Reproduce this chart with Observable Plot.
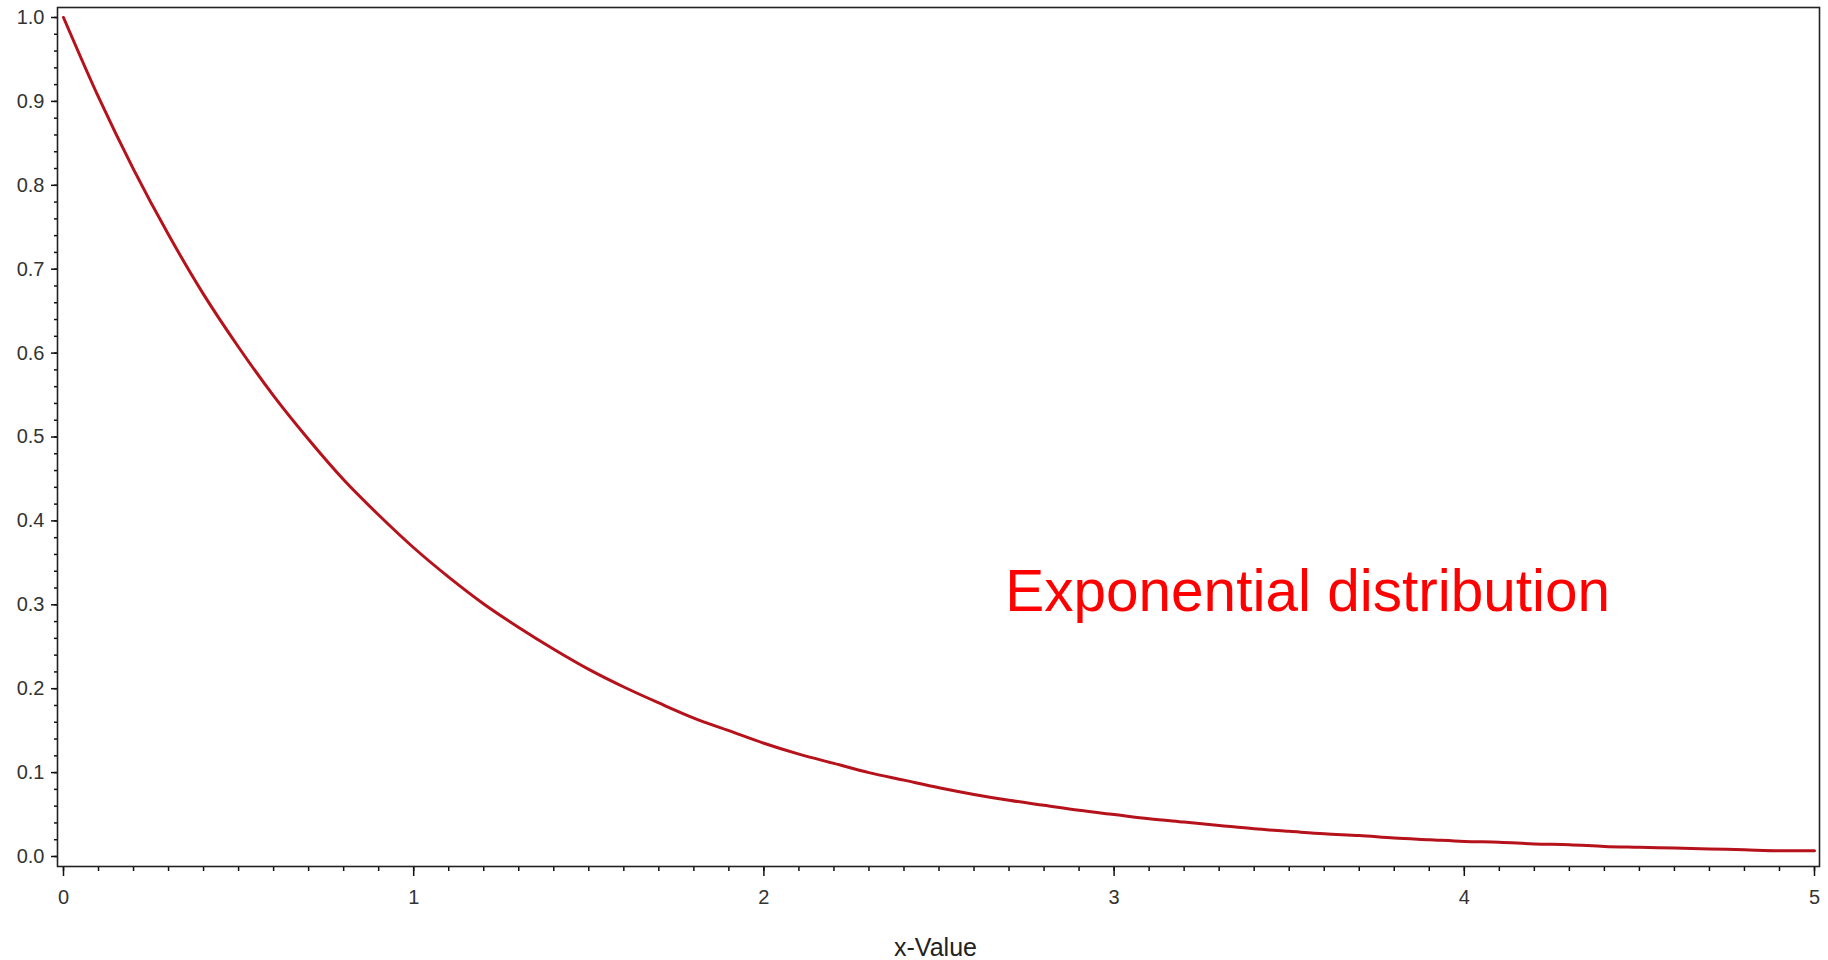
<!DOCTYPE html>
<html>
<head>
<meta charset="utf-8">
<script src="https://cdn.jsdelivr.net/npm/d3@7"></script>
<script src="https://cdn.jsdelivr.net/npm/@observablehq/plot@0.6"></script>
<style>
  html, body { margin: 0; padding: 0; background: #fff; }
</style>
</head>
<body>
<div id="chart"></div>
<script>
// x positions of the curve samples
const xValues = [0.0,0.1,0.2,0.3,0.4,0.5,0.6,0.7,0.8,0.9,1.0,1.1,1.2,1.3,1.4,1.5,1.6,1.7,1.8,1.9,
  2.0,2.1,2.2,2.3,2.4,2.5,2.6,2.7,2.8,2.9,3.0,3.1,3.2,3.3,3.4,3.5,3.6,3.7,3.8,3.9,
  4.0,4.1,4.2,4.3,4.4,4.5,4.6,4.7,4.8,4.9,5.0];
// density values
const yValues = [1.000,0.905,0.819,0.741,0.670,0.607,0.549,0.497,0.449,0.407,0.368,0.333,0.301,0.273,0.247,0.223,0.202,0.183,0.165,0.150,
  0.135,0.122,0.111,0.100,0.091,0.082,0.074,0.067,0.061,0.055,0.050,0.045,0.041,0.037,0.033,0.030,0.027,0.025,0.022,0.020,
  0.018,0.017,0.015,0.014,0.012,0.011,0.010,0.009,0.008,0.007,0.007];

const xTicks = [0, 1, 2, 3, 4, 5];
const xTickLabels = ["0", "1", "2", "3", "4", "5"];
const xMinorTicks = d3.range(0, 51).map(i => i / 10);
const yTicks = [0, 0.1, 0.2, 0.3, 0.4, 0.5, 0.6, 0.7, 0.8, 0.9, 1.0];
const yTickLabels = ["0.0","0.1","0.2","0.3","0.4","0.5","0.6","0.7","0.8","0.9","1.0"];
const yMinorTicks = d3.range(0, 51).map(i => i / 50);
const xLabel = "x-Value";
const annotationText = ["Exponential distribution"];
const annotationX = [2.689];
const annotationY = [0.315];

const curve = xValues.map((x, i) => ({x, y: yValues[i]}));
const annotation = annotationText.map((t, i) => ({t, x: annotationX[i], y: annotationY[i]}));

const chart = Plot.plot({
  width: 1828,
  height: 960,
  marginLeft: 57,
  marginRight: 9,
  marginTop: 7,
  marginBottom: 94,
  style: {fontFamily: "'Liberation Sans', Arial, sans-serif", fontSize: "20px", color: "#333", background: "#fff"},
  x: {domain: [0, 5], insetLeft: 6, insetRight: 5, label: null},
  y: {domain: [0, 1], insetTop: 10, insetBottom: 10, label: null},
  marks: [
    Plot.axisX(xMinorTicks, {tickSize: 5, tickFormat: () => "", stroke: "#111", strokeWidth: 1.5, label: null}),
    Plot.axisX(xTicks, {tickSize: 10, tickPadding: 13, tickFormat: d => xTickLabels[xTicks.indexOf(d)], stroke: "#111", strokeWidth: 1.5, fill: "#333", fontSize: 20, label: null}),
    Plot.axisY(yMinorTicks, {tickSize: 3, tickFormat: () => "", stroke: "#111", strokeWidth: 1.5, label: null}),
    Plot.axisY(yTicks, {tickSize: 6, tickPadding: 7, tickFormat: d => yTickLabels[yTicks.indexOf(d)], stroke: "#111", strokeWidth: 1.5, fill: "#333", fontSize: 20, label: null}),
    Plot.frame({stroke: "#222", strokeWidth: 1.6}),
    Plot.line(curve, {x: "x", y: "y", stroke: "#b5121b", strokeWidth: 3, curve: "monotone-x"}),
    Plot.text(annotation, {x: "x", y: "y", text: "t", textAnchor: "start", lineAnchor: "middle", fill: "#ff0000", fontSize: 58.5}),
    Plot.text([xLabel], {frameAnchor: "bottom", text: d => d, dy: 81, dx: -3, lineAnchor: "middle", fontSize: 25, fill: "#222"})
  ]
});
document.getElementById("chart").append(chart);
</script>
</body>
</html>
